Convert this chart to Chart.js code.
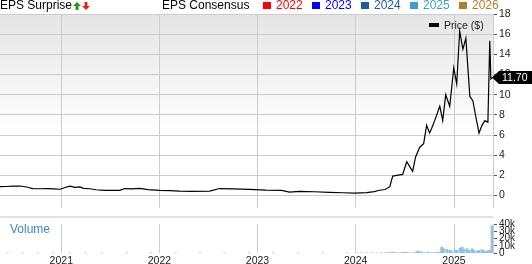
<!DOCTYPE html>
<html>
<head>
<meta charset="utf-8">
<script src="https://cdn.jsdelivr.net/npm/chart.js@4.4.1/dist/chart.umd.min.js"></script>
<style>
  body { margin: 0; width: 532px; height: 264px; position: relative; overflow: hidden; background: #fff;
         font-family: "Liberation Sans", Arial, sans-serif; }
  .abs { position: absolute; white-space: nowrap; }
  .hd { font-size: 12px; line-height: 12px; top: -1px; }
  .sq { position: absolute; top: 2px; width: 8px; height: 7px; }
  .arrow { position: absolute; top: 2px; width: 8px; height: 8px; }
  #price { position: absolute; left: 0; top: 0; }
  #volume { position: absolute; left: 0; top: 216px; }
</style>
</head>
<body>
<canvas id="price" width="532" height="216"></canvas>
<canvas id="volume" width="532" height="48"></canvas>

<!-- header -->
<span class="abs hd" style="left:0">EPS Surprise</span>
<div class="arrow" style="left:73px;background:#1a9a1a;clip-path:polygon(50% 0,100% 50%,68% 50%,68% 100%,32% 100%,32% 50%,0 50%)"></div>
<div class="arrow" style="left:82px;background:#e02020;clip-path:polygon(32% 0,68% 0,68% 50%,100% 50%,50% 100%,0 50%,32% 50%)"></div>
<span class="abs hd" style="left:162px">EPS Consensus</span>
<div id="legendYears"></div>

<div class="abs" style="left:0;top:216px;width:493px;height:2px;background:#e2e2e2"></div>
<span class="abs" style="left:10px;top:222px;font-size:12px;color:#3a87c8">Volume</span>
<div class="abs" style="left:429px;top:23px;width:10px;height:4px;background:#000"></div>
<span class="abs" style="left:444px;top:19px;font-size:10.5px;line-height:12px;color:#222">Price ($)</span>

<script>
// EPS consensus legend
const epsYears = ['2022', '2023', '2024', '2025', '2026'];
const epsColors = ['#ff0000', '#0000ff', '#1e5aa8', '#3d9fd0', '#b07c30'];
const epsLeft = [263, 312, 361, 410, 459];

// price line
const priceDates = [
  '2020-05-18', '2020-06-10', '2020-07-05', '2020-07-31', '2020-08-25', '2020-09-17', '2020-10-15',
  '2020-11-10', '2020-12-05', '2020-12-28', '2021-01-15', '2021-02-02', '2021-02-21', '2021-03-11',
  '2021-03-25', '2021-04-17', '2021-05-10', '2021-06-10', '2021-07-10', '2021-08-07', '2021-08-25',
  '2021-09-20', '2021-10-20', '2021-11-20', '2022-01-02', '2022-02-10', '2022-03-17', '2022-05-01',
  '2022-07-07', '2022-08-13', '2022-10-01', '2022-12-02', '2023-02-01', '2023-04-01', '2023-04-30',
  '2023-06-06', '2023-08-01', '2023-09-26', '2023-11-15', '2023-12-28', '2024-02-11', '2024-03-10',
  '2024-03-30', '2024-04-20', '2024-05-07', '2024-05-18', '2024-06-02', '2024-06-24', '2024-07-09',
  '2024-07-31', '2024-08-11', '2024-08-26', '2024-09-10', '2024-09-21', '2024-10-02', '2024-10-10',
  '2024-10-21', '2024-11-09', '2024-11-20', '2024-12-01', '2024-12-16', '2024-12-31', '2025-01-11',
  '2025-01-22', '2025-02-03', '2025-02-14', '2025-03-01', '2025-03-12', '2025-03-27', '2025-04-04',
  '2025-04-15', '2025-04-26', '2025-05-07', '2025-05-14', '2025-05-18', '2025-05-25'
];
const prices = [
  0.88, 0.90, 0.93, 0.95, 0.85, 0.70, 0.68,
  0.70, 0.66, 0.63, 0.80, 0.93, 0.82, 0.86,
  0.72, 0.68, 0.58, 0.52, 0.52, 0.52, 0.70,
  0.66, 0.72, 0.60, 0.52, 0.50, 0.45, 0.42,
  0.44, 0.70, 0.66, 0.62, 0.55, 0.52, 0.35,
  0.42, 0.38, 0.32, 0.28, 0.24, 0.30, 0.40,
  0.53, 0.60, 0.88, 1.93, 2.00, 2.10, 3.35,
  2.40, 3.83, 4.77, 5.15, 6.96, 6.20, 6.68,
  7.43, 8.86, 7.43, 10.00, 8.86, 12.66, 11.07,
  16.30, 14.50, 15.60, 9.80, 9.40, 7.27, 6.20,
  6.96, 7.43, 7.27, 15.35, 11.55, 11.70
];

// volume bars
const volumeDates = [
  '2020-06-15', '2020-08-10', '2020-10-05', '2020-12-01', '2021-02-01', '2021-04-01', '2021-06-01',
  '2021-09-01', '2021-12-01', '2022-03-01', '2022-06-01', '2022-09-01', '2022-12-01', '2023-03-01',
  '2023-06-01', '2023-09-01', '2023-12-01',
  '2024-01-05', '2024-01-23', '2024-02-11', '2024-03-01', '2024-03-19', '2024-04-07', '2024-04-22',
  '2024-05-06', '2024-05-18', '2024-05-29', '2024-06-09', '2024-06-20', '2024-07-01', '2024-07-12',
  '2024-07-24', '2024-08-04', '2024-08-15', '2024-08-22', '2024-09-03', '2024-09-14', '2024-09-25',
  '2024-10-06', '2024-10-17', '2024-10-28', '2024-11-08', '2024-11-16', '2024-11-23', '2024-12-05',
  '2024-12-16', '2024-12-23', '2025-01-05', '2025-01-12', '2025-01-23', '2025-01-31', '2025-02-07',
  '2025-02-18', '2025-02-26', '2025-03-09', '2025-03-16', '2025-03-28', '2025-04-04', '2025-04-15',
  '2025-04-23', '2025-04-30', '2025-05-07', '2025-05-15', '2025-05-22'
];
const volumes = [
  400, 600, 300, 500, 800, 300, 300,
  200, 300, 200, 200, 300, 200, 200,
  300, 200, 300,
  300, 400, 500, 500, 600, 800, 1000,
  1200, 1500, 1000, 800, 1200, 1500, 1200,
  800, 1000, 2500, 3000, 2000, 800, 1500,
  1000, 1000, 1200, 1500, 8500, 6500, 5500,
  4000, 3000, 4500, 4000, 7000, 8500, 5500,
  6500, 4000, 6000, 4500, 3000, 4000, 5000,
  3500, 2500, 3500, 4000, 38000
];

const yearTicks = ['2021', '2022', '2023', '2024', '2025'];
const priceTicks = [0, 2, 4, 6, 8, 10, 12, 14, 16, 18];
const volumeTicks = [0, 10000, 20000, 30000, 40000];
const xMin = Date.parse('2020-05-18');
const xMax = Date.parse('2025-05-26');

// legend squares for EPS consensus years
const legendBox = document.getElementById('legendYears');
epsYears.forEach((yr, i) => {
  const sq = document.createElement('div');
  sq.className = 'sq';
  sq.style.left = epsLeft[i] + 'px';
  sq.style.background = epsColors[i];
  legendBox.appendChild(sq);
  const t = document.createElement('span');
  t.className = 'abs hd';
  t.style.left = (epsLeft[i] + 13) + 'px';
  t.style.color = epsColors[i];
  t.textContent = yr;
  legendBox.appendChild(t);
});

const axisFont = { family: '"Liberation Sans", Arial, sans-serif', size: 10.5 };
const yearGrid = (scale) => { scale.ticks = yearTicks.map((y) => ({ value: Date.parse(y + '-01-01') })); };

const bgPlugin = {
  id: 'bg',
  beforeDraw(chart) {
    const { ctx, chartArea: a } = chart;
    const g = ctx.createLinearGradient(0, a.top, 0, a.bottom);
    g.addColorStop(0, '#e5e5e5');
    g.addColorStop(0.62, '#ffffff');
    ctx.save();
    ctx.fillStyle = g;
    ctx.fillRect(a.left, a.top, a.right - a.left, a.bottom - a.top);
    ctx.restore();
  }
};

// black tag with last price
const lastTag = {
  id: 'lastTag',
  afterDraw(chart) {
    const { ctx, chartArea: a } = chart;
    const last = prices[prices.length - 1];
    const y = chart.scales.y.getPixelForValue(last);
    const x = a.right - 1;
    ctx.save();
    ctx.fillStyle = '#000';
    ctx.beginPath();
    ctx.moveTo(x, y);
    ctx.lineTo(x + 7, y - 6.5);
    ctx.lineTo(532, y - 6.5);
    ctx.lineTo(532, y + 6.5);
    ctx.lineTo(x + 7, y + 6.5);
    ctx.closePath();
    ctx.fill();
    ctx.fillStyle = '#fff';
    ctx.font = '10.5px "Liberation Sans", Arial, sans-serif';
    ctx.textBaseline = 'middle';
    ctx.fillText(last.toFixed(2), x + 10, y + 0.5);
    ctx.restore();
  }
};

new Chart(document.getElementById('price'), {
  type: 'line',
  data: {
    datasets: [{
      data: priceDates.map((d, i) => ({ x: Date.parse(d), y: prices[i] })),
      borderColor: '#000',
      borderWidth: 1.2,
      pointRadius: 0,
      tension: 0
    }]
  },
  options: {
    responsive: false,
    animation: false,
    layout: { padding: { top: 14, left: 0, right: 0, bottom: 0 } },
    plugins: { legend: { display: false }, tooltip: { enabled: false } },
    scales: {
      x: {
        type: 'linear', min: xMin, max: xMax, offset: false,
        afterBuildTicks: yearGrid,
        ticks: { display: false },
        grid: { color: '#cccccc', drawTicks: false, offset: false },
        border: { display: false },
        afterFit: (s) => { s.height = 0; }
      },
      y: {
        position: 'right', min: -1.2, max: 18,
        afterBuildTicks: (s) => { s.ticks = priceTicks.map((v) => ({ value: v })); },
        ticks: { font: axisFont, color: '#222', padding: 2, autoSkip: false },
        grid: { color: '#cccccc', tickLength: 4, tickColor: '#555' },
        border: { color: '#cccccc' },
        afterFit: (s) => { s.width = 39; }
      }
    }
  },
  plugins: [bgPlugin, lastTag]
});

new Chart(document.getElementById('volume'), {
  type: 'bar',
  data: {
    datasets: [{
      data: volumeDates.map((d, i) => ({ x: Date.parse(d), y: volumes[i] })),
      backgroundColor: '#94bfe6',
      barThickness: 2
    }]
  },
  options: {
    responsive: false,
    animation: false,
    layout: { padding: { top: 2.7, left: 0, right: 0, bottom: 0 } },
    plugins: { legend: { display: false }, tooltip: { enabled: false } },
    scales: {
      x: {
        type: 'linear', min: xMin, max: xMax, offset: false,
        afterBuildTicks: yearGrid,
        ticks: { font: axisFont, color: '#222', padding: 2, autoSkip: false, maxRotation: 0,
                 callback: (v) => String(new Date(v).getUTCFullYear()) },
        grid: { color: '#cccccc', drawTicks: false, offset: false },
        border: { display: false },
        afterFit: (s) => { s.height = 10.7; }
      },
      y: {
        position: 'right', min: 0, max: 40000,
        afterBuildTicks: (s) => { s.ticks = volumeTicks.map((v) => ({ value: v })); },
        ticks: { font: { family: axisFont.family, size: 10 }, color: '#222', padding: 2, autoSkip: false,
                 callback: (v) => (v === 0 ? '0' : v / 1000 + 'k') },
        grid: { drawOnChartArea: false, tickLength: 4, tickColor: '#555' },
        border: { color: '#cccccc' },
        afterFit: (s) => { s.width = 39; }
      }
    }
  }
});
</script>
</body>
</html>
